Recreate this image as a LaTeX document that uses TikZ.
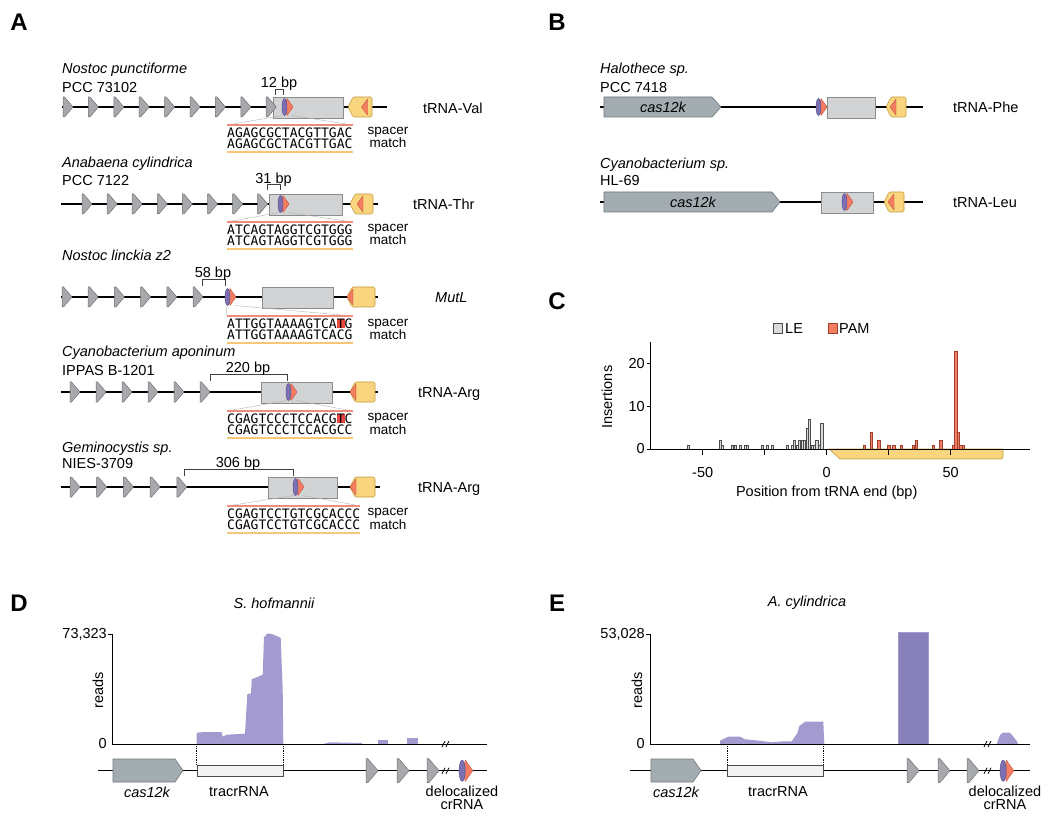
\documentclass[tikz,border=0pt]{standalone}
\usepackage{fontspec}
\setmainfont{Liberation Sans}
\newfontfamily\seqfont{DejaVu Sans Mono}

\definecolor{rptgray}{HTML}{A7A9AC}
\definecolor{rptedge}{HTML}{6D6E71}
\definecolor{boxgray}{HTML}{D1D3D4}
\definecolor{boxedge}{HTML}{8A8C8E}
\definecolor{casgray}{HTML}{A2ACB1}
\definecolor{casedge}{HTML}{6F787D}
\definecolor{crpurple}{HTML}{7D70B0}
\definecolor{crpurpleedge}{HTML}{574B8C}
\definecolor{crorange}{HTML}{F47D62}
\definecolor{crorangeedge}{HTML}{C4503A}
\definecolor{trnayellow}{HTML}{F8D57E}
\definecolor{trnaedge}{HTML}{C49B3C}
\definecolor{seqred}{HTML}{F08C7A}
\definecolor{seqgold}{HTML}{F8C878}
\definecolor{hitred}{HTML}{E8463C}
\definecolor{covlight}{HTML}{A39BCF}
\definecolor{covdark}{HTML}{8880BA}
\definecolor{lefill}{HTML}{DADADA}
\definecolor{tracrfill}{HTML}{F3F3F3}

\tikzset{
  track/.style={line width=1.3pt},
  rpt/.style={fill=rptgray, draw=rptedge, line width=0.5pt, line join=round},
  gbox/.style={fill=boxgray, draw=boxedge, line width=0.6pt},
  casbox/.style={fill=casgray, draw=casedge, line width=0.6pt, line join=round},
  crp/.style={fill=crpurple, draw=crpurpleedge, line width=0.4pt},
  cro/.style={fill=crorange, draw=crorangeedge, line width=0.4pt, line join=round},
  trna/.style={fill=trnayellow, draw=trnaedge, line width=0.6pt, rounded corners=1.5pt},
  txt/.style={font=\fontsize{14.5}{16}\selectfont, inner sep=0pt},
  lbl/.style={txt, anchor=west, text height=10.4pt, text depth=0pt},
  species/.style={lbl, font=\fontsize{14.5}{16}\selectfont\itshape},
  bplbl/.style={txt, text height=10.4pt, text depth=0pt},
  matchlbl/.style={font=\fontsize{13.5}{12}\selectfont, align=center, inner sep=0pt},
  seq/.style={font=\seqfont\fontsize{13}{11.5}\selectfont, align=left, inner xsep=0pt, inner ysep=2.6pt, anchor=north west},
  seqtop/.style={draw=seqred, line width=1.2pt},
  sequnder/.style={draw=seqgold, line width=1.2pt},
  fan/.style={draw=black!30, line width=0.4pt},
  brkt/.style={line width=0.7pt, draw=black!75},
  axisline/.style={line width=1pt},
  lebar/.style={fill=lefill, draw=black!70, line width=0.4pt},
  pambar/.style={fill=crorange, draw=crorangeedge!80!black, line width=0.4pt},
  covl/.style={fill=covlight},
  covd/.style={fill=covdark, draw=covlight, line width=0.5pt},
  tracr/.style={fill=tracrfill, draw=black!70, line width=0.6pt, inner sep=0pt},
  dots/.style={densely dotted, line width=0.8pt},
  panel/.style={font=\fontsize{24}{24}\selectfont\bfseries, inner sep=0pt},
  casname/.style={txt, font=\fontsize{14.5}{16}\selectfont\itshape},
}

\newcommand{\rptunit}[3][1]{%
  \begin{scope}[shift={(#2,#3)}, scale=#1]
    \draw[rpt] (0,-10) -- (1.5,-10) -- (10,0) -- (1.5,10) -- (0,10) -- cycle;
  \end{scope}}
\newcommand{\crunit}[4][1]{%
  \begin{scope}[shift={(#3,#4)}, scale=#1]
    \draw[cro] (5,-8.5) -- (11,0) -- (5,8.5) -- (3.5,0) -- cycle;
    \draw[crp] (2.5,0) ellipse [x radius=2.5, y radius=8.5];
    \coordinate (#2l) at (1,8.5);
    \coordinate (#2r) at (10,8.5);
  \end{scope}}
\newcommand{\trnaunit}[4]{%
  \begin{scope}[shift={(#1,#2)}]
    \draw[trna] (0,0) -- (5,-10) -- (#4,-10) -- (#4,10) -- (5,10) -- cycle;
    \draw[cro] (#3,0) -- (#3+6,-8) -- (#3+6,8) -- cycle;
  \end{scope}}
\newcommand{\brk}[2]{\draw[line width=0.8pt] (#1-4,#2+3) -- (#1-1,#2-3) (#1,#2+3) -- (#1+3,#2-3);}
\newcommand{\hit}[1]{{\setlength{\fboxsep}{0pt}\colorbox{hitred}{#1}}}

\begin{document}
\begin{tikzpicture}[x=1pt, y=-1pt]
  \useasboundingbox (0,0) rectangle (1050,818);

  \node[panel] (pA) at (19,22) {A};
  \node[panel] (pB) at (557,22) {B};
  \node[panel] (pC) at (557,301) {C};
  \node[panel] (pD) at (19,603) {D};
  \node[panel] (pE) at (557,603) {E};

  % A, row 1
  \node[species] (sp1) at (62,68) {Nostoc punctiforme};
  \node[lbl] (st1) at (62,87) {PCC 73102};
  \draw[track] (62,107) -- (387,107);
  \draw[gbox] (273,97) rectangle (343,118);
  \foreach \i in {0,...,8} \rptunit{63+25.4*\i}{107};
  \crunit{c1}{282}{107}
  \trnaunit{348}{107}{13.5}{24}
  \draw[brkt] (275,95) -- (275,89) -- (283,89) -- (283,95);
  \node[bplbl] (bp1) at (279,82) {12 bp};
  \node[lbl] (t1) at (423,108) {tRNA-Val};
  \node[seq] (sq1) at (227,125) {AGAGCGCTACGTTGAC\\AGAGCGCTACGTTGAC};
  \draw[fan] (c1l) -- (sq1.north west) (c1r) -- (sq1.north east);
  \draw[seqtop] (sq1.north west) -- (sq1.north east);
  \draw[sequnder] (sq1.south west) -- (sq1.south east);
  \node[matchlbl] (m1) at (388,137.5) {spacer\\match};

  % A, row 2
  \node[species] (sp2) at (62,162) {Anabaena cylindrica};
  \node[lbl] (st2) at (62,180) {PCC 7122};
  \draw[track] (61,204) -- (378,204);
  \draw[gbox] (269,194) rectangle (342,215);
  \foreach \i in {0,...,7} \rptunit{82+25.1*\i}{204};
  \crunit{c2}{278}{204}
  \trnaunit{350}{204}{7}{23}
  \draw[brkt] (267,190) -- (267,184) -- (280,184) -- (280,190);
  \node[bplbl] (bp2) at (273.5,178) {31 bp};
  \node[lbl] (t2) at (413,204) {tRNA-Thr};
  \node[seq] (sq2) at (227,222) {ATCAGTAGGTCGTGGG\\ATCAGTAGGTCGTGGG};
  \draw[fan] (c2l) -- (sq2.north west) (c2r) -- (sq2.north east);
  \draw[seqtop] (sq2.north west) -- (sq2.north east);
  \draw[sequnder] (sq2.south west) -- (sq2.south east);
  \node[matchlbl] (m2) at (388,234.5) {spacer\\match};

  % A, row 3
  \node[species] (sp3) at (62,255) {Nostoc linckia z2};
  \draw[track] (61,297) -- (378,297);
  \draw[gbox] (262,287) rectangle (333,308);
  \foreach \i in {0,...,5} \rptunit{62+26.2*\i}{297};
  \crunit{c3}{225}{297}
  \trnaunit{347}{297}{0}{28}
  \draw[brkt] (202,286) -- (202,279) -- (225,279) -- (225,286);
  \node[bplbl] (bp3) at (213,272) {58 bp};
  \node[lbl, font=\fontsize{14.5}{16}\selectfont\itshape] (t3) at (435,297) {MutL};
  \node[seq] (sq3) at (227,316) {ATTGGTAAAAGTCA\hit{T}G\\ATTGGTAAAAGTCACG};
  \draw[fan] (c3l) -- (sq3.north west) (c3r) -- (sq3.north east);
  \draw[seqtop] (sq3.north west) -- (sq3.north east);
  \draw[sequnder] (sq3.south west) -- (sq3.south east);
  \node[matchlbl] (m3) at (388,329.5) {spacer\\match};

  % A, row 4
  \node[species] (sp4) at (62,351) {Cyanobacterium aponinum};
  \node[lbl] (st4) at (62,370) {IPPAS B-1201};
  \draw[track] (61,392) -- (378,392);
  \draw[gbox] (261,382) rectangle (332,403);
  \foreach \i in {0,...,5} \rptunit{70+26*\i}{392};
  \crunit{c4}{286}{392}
  \trnaunit{350}{392}{0}{25}
  \draw[brkt] (210,381) -- (210,374) -- (287,374) -- (287,381);
  \node[bplbl] (bp4) at (248,367.5) {220 bp};
  \node[lbl] (t4) at (418,392) {tRNA-Arg};
  \node[seq] (sq4) at (227,411) {CGAGTCCCTCCACG\hit{T}C\\CGAGTCCCTCCACGCC};
  \draw[fan] (c4l) -- (sq4.north west) (c4r) -- (sq4.north east);
  \draw[seqtop] (sq4.north west) -- (sq4.north east);
  \draw[sequnder] (sq4.south west) -- (sq4.south east);
  \node[matchlbl] (m4) at (388,424) {spacer\\match};

  % A, row 5
  \node[species] (sp5) at (62,447) {Geminocystis sp.};
  \node[lbl] (st5) at (62,463) {NIES-3709};
  \draw[track] (61,487) -- (380,487);
  \draw[gbox] (268,477) rectangle (337,498);
  \foreach \i in {0,...,4} \rptunit{70+26.7*\i}{487};
  \crunit{c5}{293}{487}
  \trnaunit{350}{487}{0}{25}
  \draw[brkt] (184,476) -- (184,469) -- (293,469) -- (293,476);
  \node[bplbl] (bp5) at (238,462) {306 bp};
  \node[lbl] (t5) at (418,487) {tRNA-Arg};
  \node[seq] (sq5) at (227,506) {CGAGTCCTGTCGCACCC\\CGAGTCCTGTCGCACCC};
  \draw[fan] (c5l) -- (sq5.north west) (c5r) -- (sq5.north east);
  \draw[seqtop] (sq5.north west) -- (sq5.north east);
  \draw[sequnder] (sq5.south west) -- (sq5.south east);
  \node[matchlbl] (m5) at (388,519) {spacer\\match};

  % B
  \node[species] (bsp1) at (600,68) {Halothece sp.};
  \node[lbl] (bst1) at (600,87) {PCC 7418};
  \draw[track] (600,107) -- (923,107);
  \draw[casbox] (604,97) -- (712,97) -- (721,107) -- (712,117) -- (604,117) -- cycle;
  \node[casname] (bk1) at (663,107) {cas12k};
  \draw[gbox] (827,97) rectangle (875,118);
  \crunit{b1}{816}{107}
  \trnaunit{886}{107}{4}{20}
  \node[lbl] (bt1) at (953,107) {tRNA-Phe};

  \node[species] (bsp2) at (600,163) {Cyanobacterium sp.};
  \node[lbl] (bst2) at (600,180) {HL-69};
  \draw[track] (600,202) -- (923,202);
  \draw[casbox] (604,192) -- (772,192) -- (780,202) -- (772,212) -- (604,212) -- cycle;
  \node[casname] (bk2) at (693,202) {cas12k};
  \draw[gbox] (821,192) rectangle (873,213);
  \crunit{b2}{842}{202}
  \trnaunit{884}{202}{4}{20}
  \node[lbl] (bt2) at (953,202) {tRNA-Leu};

  % C
  \draw[lebar] (773,323) rectangle (782,333);
  \node[lbl] (leg1) at (785,328) {LE};
  \draw[pambar] (828,323) rectangle (837,333);
  \node[lbl] (leg2) at (839,328) {PAM};
  \begin{scope}[shift={(826.7,449)}, x=2.48pt, y=4.25pt]
    \draw[fill=trnayellow, draw=trnaedge, line width=0.6pt] (1,0) -- (5.3,-2.35) -- (70.6,-2.35) -- (71.1,-1.8) -- (71.1,0) -- cycle;
    \foreach \p/\h in {-56/1,-43/2,-42/1,-38/1,-37/1,-35/1,-33/1,-32/1,-26/1,-24/1,-22/1,-16/1,-14/1,-13/2,-12/1,-11/2,-10/2,-9/2,-8/5,-7/7,-6/1,-5/1,-4/2,-3/1,-2/6}
      \draw[lebar] (\p-0.45,0) rectangle (\p+0.45,\h);
    \foreach \p/\h in {15/1,18/4,21/2,25/1,27/1,30/1,35/1,36/2,43/1,46/2,51/1,52/23,53/4,54/1,55/1}
      \draw[pambar] (\p-0.45,0) rectangle (\p+0.45,\h);
    \draw[axisline] (-71.25,25.2) -- (-71.25,0) -- (82,0);
    \foreach \t in {-50,-25,0,25,50} \draw[axisline] (\t,0) -- (\t,-1.4);
    \foreach \t in {-50,0,50} \node[txt] (xl\t) at (\t,-5.6) {\t};
    \foreach \t in {0,10,20} {
      \draw[axisline] (-71.25,\t) -- (-72.6,\t);
      \node[txt, anchor=east] (yl\t) at (-73.3,\t) {\t};
    }
    \node[txt, rotate=90] (ins) at (-88.6,12.2) {Insertions};
    \node[txt] (pos) at (0,-10.4) {Position from tRNA end (bp)};
  \end{scope}

  % D
  \node[txt, font=\fontsize{14.5}{16}\selectfont\itshape] (tD) at (274,603) {S. hofmannii};
  \fill[covl] (196.7,744) -- (196.7,732.7) -- (205,732) -- (221.7,732) -- (222.7,736.7) -- (226.7,734.7) -- (245,733.7) -- (247.3,694.3) -- (251,693.3) -- (251.7,679.3) -- (256.7,677.3) -- (262.7,674.7) -- (264,637.3) -- (267.7,633.3) -- (272.7,634.3) -- (278.3,636.7) -- (280.7,637.7) -- (282.7,690) -- (283.3,744) -- cycle;
  \fill[covl] (323,744) -- (330,742.3) -- (362,743) -- (362,744) -- cycle;
  \fill[covl] (377.7,744) rectangle (388.3,740);
  \fill[covl] (406.7,744) rectangle (418.3,737.7);
  \draw[axisline] (108,634) -- (112,634) -- (112,744) -- (487,744);
  \node[txt, anchor=east] (mD) at (107,634) {73,323};
  \node[txt, anchor=east] (zD) at (107,744) {0};
  \node[txt, rotate=90] (yD) at (98,690) {reads};
  \brk{446}{744}
  \draw[track] (98,770.7) -- (487,770.7);
  \draw[casbox] (113,759) -- (175,759) -- (183,770.5) -- (175,782) -- (113,782) -- cycle;
  \node[tracr, minimum width=86pt, minimum height=11pt] (trD) at (240,770.5) {};
  \draw[dots] (trD.north west) -- ++(0,-21);
  \draw[dots] (trD.north east) -- ++(0,-21);
  \foreach \x in {366,397,427} \rptunit[1.2]{\x}{770.7};
  \brk{446}{770.7}
  \crunit[1.25]{d1}{459}{770.7}
  \node[casname] (kD) at (147,792) {cas12k};
  \node[txt] (rD) at (239,792) {tracrRNA};
  \node[txt, align=center, font=\fontsize{14.5}{13}\selectfont] (dD) at (462,798) {delocalized\\crRNA};

  % E
  \node[txt, font=\fontsize{14.5}{16}\selectfont\itshape] (tE) at (807,603) {A. cylindrica};
  \fill[covl] (720,744) -- (720,740.7) -- (728.3,736.7) -- (740,736.7) -- (745,739.3) -- (760,740.7) -- (771.7,742.3) -- (783.3,741.3) -- (791.7,741.3) -- (797.3,733.3) -- (799.3,726) -- (805,721.7) -- (823.3,721.7) -- (824.3,744) -- cycle;
  \draw[covd] (898.3,632.3) rectangle (928.3,744);
  \fill[covl] (996.7,744) -- (1000,735) -- (1002.7,732.7) -- (1010,732.7) -- (1013.3,736.7) -- (1017.3,741.7) -- (1018,744) -- cycle;
  \draw[axisline] (646,634) -- (650,634) -- (650,744) -- (1030,744);
  \node[txt, anchor=east] (mE) at (645,634) {53,028};
  \node[txt, anchor=east] (zE) at (645,744) {0};
  \node[txt, rotate=90] (yE) at (637,690) {reads};
  \brk{988}{744}
  \draw[track] (630,770.7) -- (1030,770.7);
  \draw[casbox] (651,759) -- (693,759) -- (701,770.5) -- (693,782) -- (651,782) -- cycle;
  \node[tracr, minimum width=95.6pt, minimum height=11pt] (trE) at (775.5,770.5) {};
  \draw[dots] (trE.north west) -- ++(0,-21);
  \draw[dots] (trE.north east) -- ++(0,-21);
  \foreach \x in {907,938,967} \rptunit[1.2]{\x}{770.7};
  \brk{988}{770.7}
  \crunit[1.25]{e1}{1000}{770.7}
  \node[casname] (kE) at (676,792) {cas12k};
  \node[txt] (rE) at (778,792) {tracrRNA};
  \node[txt, align=center, font=\fontsize{14.5}{13}\selectfont] (dE) at (1005,798) {delocalized\\crRNA};
\end{tikzpicture}
\end{document}
